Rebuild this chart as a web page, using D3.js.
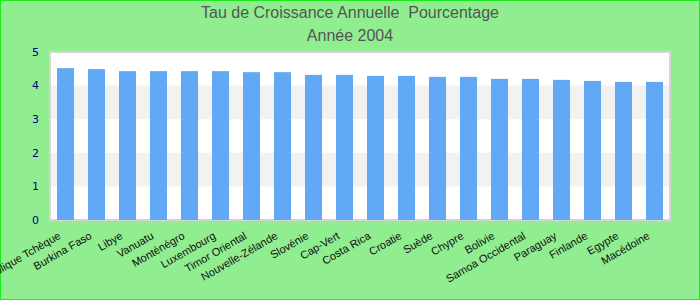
<!DOCTYPE html>
<html lang="fr">
<head>
<meta charset="UTF-8">
<title>Tau de Croissance Annuelle</title>
<script src="https://d3js.org/d3.v7.min.js"></script>
<style>
  body { margin: 0; }
  svg { display: block; }
</style>
</head>
<body>
<div id="chart"></div>
<script>
// data
const countries = ["République Tchèque", "Burkina Faso", "Libye", "Vanuatu", "Monténégro", "Luxembourg",
  "Timor Oriental", "Nouvelle-Zélande", "Slovénie", "Cap-Vert", "Costa Rica", "Croatie", "Suède",
  "Chypre", "Bolivie", "Samoa Occidental", "Paraguay", "Finlande", "Egypte", "Macédoine"];
const rates = [4.52, 4.49, 4.43, 4.43, 4.43, 4.43, 4.40, 4.40, 4.32, 4.32, 4.29, 4.29, 4.26,
  4.26, 4.20, 4.20, 4.17, 4.14, 4.11, 4.11];
const yTicks = [0, 1, 2, 3, 4, 5];
const titleLines = ["Tau de Croissance Annuelle  Pourcentage", "Année 2004"];

const W = 700, H = 300;
const m = {top: 52, right: 30, bottom: 80, left: 50};

const svg = d3.select("#chart").append("svg")
  .attr("width", W).attr("height", H);

// background + green frame
svg.append("rect")
  .attr("x", 0.5).attr("y", 0.5).attr("width", W - 1).attr("height", H - 1)
  .attr("fill", "#90ee90").attr("stroke", "#1ee81e");

const x = d3.scaleBand().domain(countries).range([m.left, W - m.right]).paddingInner(0.45).paddingOuter(0.225);
const y = d3.scaleLinear().domain([0, 5]).range([H - m.bottom, m.top]);

// plot area
svg.append("rect")
  .attr("x", m.left).attr("y", m.top)
  .attr("width", W - m.left - m.right).attr("height", H - m.top - m.bottom)
  .attr("fill", "#fff").attr("stroke", "#d4d4d4").attr("stroke-width", 2);

// alternating bands
svg.append("g").selectAll("rect")
  .data(yTicks.slice(0, -1).filter(d => d % 2 === 1))
  .join("rect")
  .attr("x", m.left + 1).attr("width", W - m.left - m.right - 2)
  .attr("y", d => y(d + 1)).attr("height", d => y(d) - y(d + 1))
  .attr("fill", "#f2f2f2");

// bars
svg.append("g").selectAll("rect")
  .data(countries)
  .join("rect")
  .attr("x", d => x(d))
  .attr("width", x.bandwidth())
  .attr("y", (d, i) => y(rates[i]))
  .attr("height", (d, i) => y(0) - y(rates[i]))
  .attr("fill", "#62a9f5");

// y axis labels
svg.append("g").selectAll("text")
  .data(yTicks)
  .join("text")
  .attr("x", 39).attr("y", d => y(d))
  .attr("dy", "0.35em")
  .attr("text-anchor", "end")
  .attr("font-family", "DejaVu Sans, sans-serif")
  .attr("font-size", 11)
  .attr("fill", "#00008b")
  .text(d => d);

// x axis labels, rotated
svg.append("g").selectAll("text")
  .data(countries)
  .join("text")
  .attr("transform", d => `translate(${x(d) + x.bandwidth() / 2 - 4},${H - m.bottom + 18}) rotate(-30)`)
  .attr("text-anchor", "end")
  .attr("font-family", "Liberation Sans, Arial, sans-serif")
  .attr("font-size", 11)
  .attr("fill", "#111")
  .text(d => d);

// title
svg.append("g").selectAll("text")
  .data(titleLines)
  .join("text")
  .attr("x", W / 2).attr("y", (d, i) => 18 + i * 23)
  .attr("text-anchor", "middle")
  .attr("font-family", "Liberation Sans, Arial, sans-serif")
  .attr("font-size", 16)
  .attr("fill", "#555")
  .style("white-space", "pre")
  .text(d => d);
</script>
</body>
</html>
